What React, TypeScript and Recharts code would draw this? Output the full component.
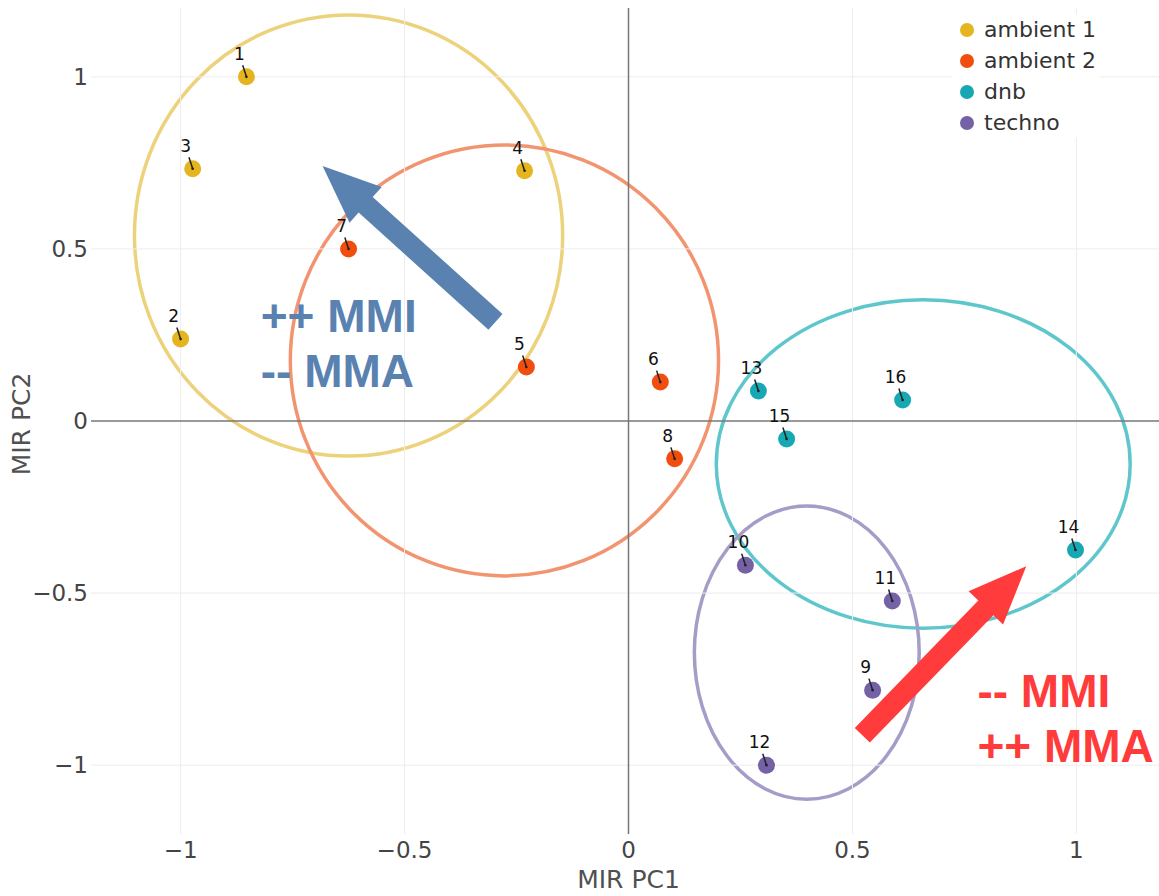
import React from 'react';
import {
  ScatterChart,
  Scatter,
  XAxis,
  YAxis,
  ReferenceLine,
  ReferenceArea,
  ReferenceDot,
  Label,
} from 'recharts';

const seriesNames = ['ambient 1', 'ambient 2', 'dnb', 'techno'];
const seriesColors = ['#E4B51E', '#F04D0F', '#17A8B3', '#7561A5'];
const ellipseColors = ['#EDD27C', '#F29470', '#5FC7CB', '#A59DC7'];

const ambient1 = [
  { id: 1, x: -0.853, y: 1.0 },
  { id: 2, x: -1.0, y: 0.238 },
  { id: 3, x: -0.973, y: 0.733 },
  { id: 4, x: -0.232, y: 0.727 },
];
const ambient2 = [
  { id: 5, x: -0.228, y: 0.157 },
  { id: 6, x: 0.071, y: 0.113 },
  { id: 7, x: -0.625, y: 0.5 },
  { id: 8, x: 0.103, y: -0.11 },
];
const dnb = [
  { id: 13, x: 0.29, y: 0.087 },
  { id: 14, x: 0.998, y: -0.375 },
  { id: 15, x: 0.353, y: -0.052 },
  { id: 16, x: 0.612, y: 0.061 },
];
const techno = [
  { id: 9, x: 0.545, y: -0.782 },
  { id: 10, x: 0.261, y: -0.419 },
  { id: 11, x: 0.589, y: -0.523 },
  { id: 12, x: 0.308, y: -1.0 },
];
const seriesData = [ambient1, ambient2, dnb, techno];

// cluster outlines, centre + radii in data units
const clusterCx = [-0.625, -0.277, 0.658, 0.398];
const clusterCy = [0.539, 0.176, -0.125, -0.673];
const clusterRx = [0.478, 0.478, 0.462, 0.251];
const clusterRy = [0.641, 0.626, 0.477, 0.426];

// the two big arrows and their notes
const arrowFrom = [{ x: -0.297, y: 0.288 }, { x: 0.522, y: -0.913 }];
const arrowTo = [{ x: -0.683, y: 0.741 }, { x: 0.888, y: -0.422 }];
const arrowColors = ['#5A82B0', '#FF3B3B'];
const noteLines = [['++ MMI', '-- MMA'], ['-- MMI', '++ MMA']];
const noteAnchor = [{ x: -0.821, y: 0.259 }, { x: 0.779, y: -0.831 }];

const axisTicks = [-1, -0.5, 0, 0.5, 1];
const gridTicks = [-1, -0.5, 0.5, 1];

const FONT = 'DejaVu Sans';

const fmt = (v: number) => (v < 0 ? `\u2212${Math.abs(v)}` : `${v}`);

const pointShape = (color: string) => (props: any) => {
  const { cx, cy, payload } = props;
  return (
    <g>
      <circle cx={cx} cy={cy} r={8.5} fill={color} />
      <line x1={cx - 3.7} y1={cy - 11.5} x2={cx} y2={cy} stroke="#222" strokeWidth={1.5} />
      <circle cx={cx} cy={cy} r={1.3} fill="#222" />
      <text x={cx - 7} y={cy - 17} textAnchor="middle" fontSize={17} fontFamily={FONT} fill="#111">
        {payload.id}
      </text>
    </g>
  );
};

const ellipseShape = (color: string) => (props: any) => {
  const { x, y, width, height } = props;
  return (
    <ellipse
      cx={x + width / 2}
      cy={y + height / 2}
      rx={Math.abs(width) / 2}
      ry={Math.abs(height) / 2}
      fill="none"
      stroke={color}
      strokeWidth={3.5}
    />
  );
};

const arrowShape = (color: string) => (props: any) => {
  const { x1, y1, x2, y2 } = props;
  const dx = x2 - x1;
  const dy = y2 - y1;
  const len = Math.hypot(dx, dy) || 1;
  const ux = dx / len;
  const uy = dy / len;
  const px = -uy;
  const py = ux;
  const sw = 10.5;
  const hw = 24;
  const hl = 58;
  const bx = x2 - ux * hl;
  const by = y2 - uy * hl;
  const pts = [
    [x1 + px * sw, y1 + py * sw],
    [bx + px * sw, by + py * sw],
    [bx + px * hw, by + py * hw],
    [x2, y2],
    [bx - px * hw, by - py * hw],
    [bx - px * sw, by - py * sw],
    [x1 - px * sw, y1 - py * sw],
  ];
  return <polygon points={pts.map((p) => p.join(',')).join(' ')} fill={color} />;
};

const noteShape = (color: string, lines: string[]) => (props: any) => {
  const { cx, cy } = props;
  return (
    <text fontFamily="Liberation Sans" fontWeight="bold" fontSize={46} fill={color}>
      {lines.map((l, i) => (
        <tspan key={i} x={cx} y={cy + i * 55}>
          {l}
        </tspan>
      ))}
    </text>
  );
};

const Legend = () => (
  <div
    style={{
      position: 'absolute',
      left: 952,
      top: 14,
      width: 148,
      background: '#fff',
      fontFamily: FONT,
      fontSize: 22,
      color: '#333',
    }}
  >
    {seriesNames.map((n, i) => (
      <div key={n} style={{ height: 31, display: 'flex', alignItems: 'center' }}>
        <span
          style={{
            width: 14,
            height: 14,
            borderRadius: 7,
            background: seriesColors[i],
            marginLeft: 8,
            marginRight: 10,
          }}
        />
        {n}
      </div>
    ))}
  </div>
);

export default function App() {
  return (
    <div
      style={{
        position: 'fixed',
        left: 0,
        top: 0,
        width: 1159,
        height: 896,
        overflow: 'hidden',
        background: '#fff',
      }}
    >
      <ScatterChart width={1170} height={896} margin={{ top: 8, right: 4, left: 0, bottom: 0 }}>
        <XAxis
          type="number"
          dataKey="x"
          domain={[-1.2, 1.2]}
          ticks={axisTicks}
          allowDataOverflow
          axisLine={false}
          tickLine={false}
          tickSize={0}
          tickMargin={8}
          height={62}
          tickFormatter={fmt}
          tick={{ fill: '#444', fontSize: 23, fontFamily: FONT }}
        >
          <Label
            content={({ viewBox }: any) => (
              <text
                x={viewBox.x + viewBox.width / 2}
                y={viewBox.y + 54}
                textAnchor="middle"
                fontSize={25}
                fontFamily={FONT}
                fill="#505050"
              >
                MIR PC1
              </text>
            )}
          />
        </XAxis>
        <YAxis
          type="number"
          dataKey="y"
          domain={[-1.2, 1.2]}
          ticks={axisTicks}
          allowDataOverflow
          axisLine={false}
          tickLine={false}
          tickSize={0}
          tickMargin={3}
          width={91}
          tickFormatter={fmt}
          tick={{ fill: '#444', fontSize: 23, fontFamily: FONT }}
        >
          <Label
            content={({ viewBox }: any) => {
              const x = viewBox.x + 30;
              const y = viewBox.y + viewBox.height / 2 + 3;
              return (
                <text
                  x={x}
                  y={y}
                  transform={`rotate(-90, ${x}, ${y})`}
                  textAnchor="middle"
                  fontSize={25}
                  fontFamily={FONT}
                  fill="#505050"
                >
                  MIR PC2
                </text>
              );
            }}
          />
        </YAxis>
        {gridTicks.map((t) => (
          <ReferenceLine key={`gx-${t}`} x={t} stroke="#EDEDED" strokeWidth={1} />
        ))}
        {gridTicks.map((t) => (
          <ReferenceLine key={`gy-${t}`} y={t} stroke="#EDEDED" strokeWidth={1} />
        ))}
        <ReferenceLine x={0} stroke="#777" strokeWidth={1.5} />
        <ReferenceLine y={0} stroke="#777" strokeWidth={1.5} />
        {clusterCx.map((cx, i) => (
          <ReferenceArea
            key={`ell-${i}`}
            x1={cx - clusterRx[i]}
            x2={cx + clusterRx[i]}
            y1={clusterCy[i] - clusterRy[i]}
            y2={clusterCy[i] + clusterRy[i]}
            shape={ellipseShape(ellipseColors[i])}
          />
        ))}
        {seriesData.map((d, i) => (
          <Scatter
            key={seriesNames[i]}
            name={seriesNames[i]}
            data={d}
            fill={seriesColors[i]}
            shape={pointShape(seriesColors[i])}
            isAnimationActive={false}
          />
        ))}
        {arrowFrom.map((a, i) => (
          <ReferenceLine
            key={`arr-${i}`}
            segment={[a, arrowTo[i]]}
            shape={arrowShape(arrowColors[i])}
            zIndex={700}
          />
        ))}
        {noteAnchor.map((p, i) => (
          <ReferenceDot
            key={`note-${i}`}
            x={p.x}
            y={p.y}
            r={1}
            shape={noteShape(arrowColors[i], noteLines[i])}
            zIndex={800}
          />
        ))}
      </ScatterChart>
      <Legend />
    </div>
  );
}
